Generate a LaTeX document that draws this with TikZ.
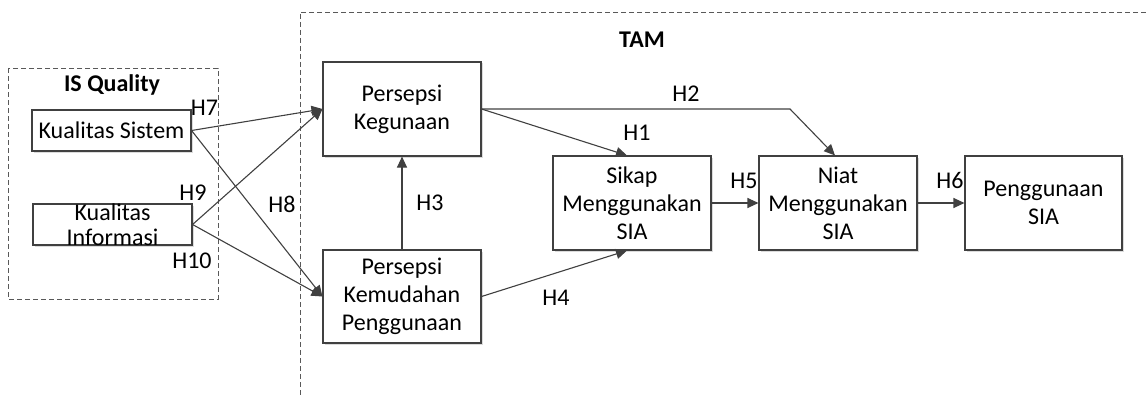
\documentclass[tikz,border=0pt]{standalone}
\usepackage{fontspec}
\setmainfont{Carlito}
\usetikzlibrary{arrows.meta,shadows}
\begin{document}
\begin{tikzpicture}[x=1pt,y=-1pt,
  every node/.style={font=\fontsize{24}{28}\selectfont, inner sep=0pt, text=black},
  box/.style={draw=black!75, line width=1.1pt, fill=white, align=center,
    minimum width=158pt, minimum height=94pt,
    drop shadow={shadow xshift=1.5pt, shadow yshift=-1.5pt, opacity=0.35, fill=black!40}},
  smallbox/.style={box, minimum width=159pt, minimum height=41pt},
  grp/.style={draw=black!65, line width=0.9pt, dash pattern=on 5pt off 3pt},
  arr/.style={draw=black!75, line width=1.1pt, -{Triangle[length=11pt,width=10pt]}},
  lbl/.style={anchor=base},
  ttl/.style={anchor=base, font=\fontsize{24}{28}\selectfont\bfseries}]
\useasboundingbox (0,0) rectangle (1146,396);

% groups
\draw[grp] (8,68) rectangle (218,299);
\draw[grp] (1146,12) -- (300,12) -- (300,396);
\node[ttl] (isq) at (112,92) {IS Quality};
\node[ttl] (tam) at (642,48) {TAM};

% boxes
\node[smallbox] (ks) at (111.5,130.5) {Kualitas Sistem};
\node[smallbox] (ki) at (112.5,224.5) {};
\node[font=\fontsize{24}{25}\selectfont, align=center] (kit) at (112.5,225) {Kualitas\\Informasi};
\node[box] (pk) at (402,109) {Persepsi\\Kegunaan};
\node[box, minimum height=93pt] (pkp) at (402,296.5) {Persepsi\\Kemudahan\\Penggunaan};
\node[box] (sk) at (632,203) {Sikap\\Menggunakan\\SIA};
\node[box] (nt) at (838,203) {Niat\\Menggunakan\\SIA};
\node[box, minimum width=157pt] (pg) at (1043.5,203) {Penggunaan\\SIA};

% connectors
\draw[arr] (ks.east) -- (pk.west);
\draw[arr] (ki.east) -- (pk.west);
\draw[arr] (ks.east) -- (pkp.west);
\draw[arr] (ki.east) -- (pkp.west);
\draw[arr] (pkp.north) -- (pk.south);
\draw[arr] (pk.east) -- ([xshift=-5pt]sk.north);
\coordinate (bend) at (790,108);
\draw[arr] (pk.east) -- (pk.east -| bend) -- ([xshift=-3pt]nt.north);
\draw[arr] (pkp.east) -- ([xshift=-5pt]sk.south);
\draw[arr] (sk.east) -- (nt.west);
\draw[arr] (nt.east) -- (pg.west);

% labels
\node[lbl] (h7) at (204.5,115) {H7};
\node[lbl] (h9) at (193,200) {H9};
\node[lbl] (h10) at (192,268) {H10};
\node[lbl] (h8) at (282,212) {H8};
\node[lbl] (h3) at (430,210) {H3};
\node[lbl] (h1) at (637,140) {H1};
\node[lbl] (h4) at (556,305) {H4};
\node[lbl] (h2) at (686,102) {H2};
\node[lbl] (h5) at (744,188) {H5};
\node[lbl] (h6) at (950,188) {H6};
\end{tikzpicture}
\end{document}
